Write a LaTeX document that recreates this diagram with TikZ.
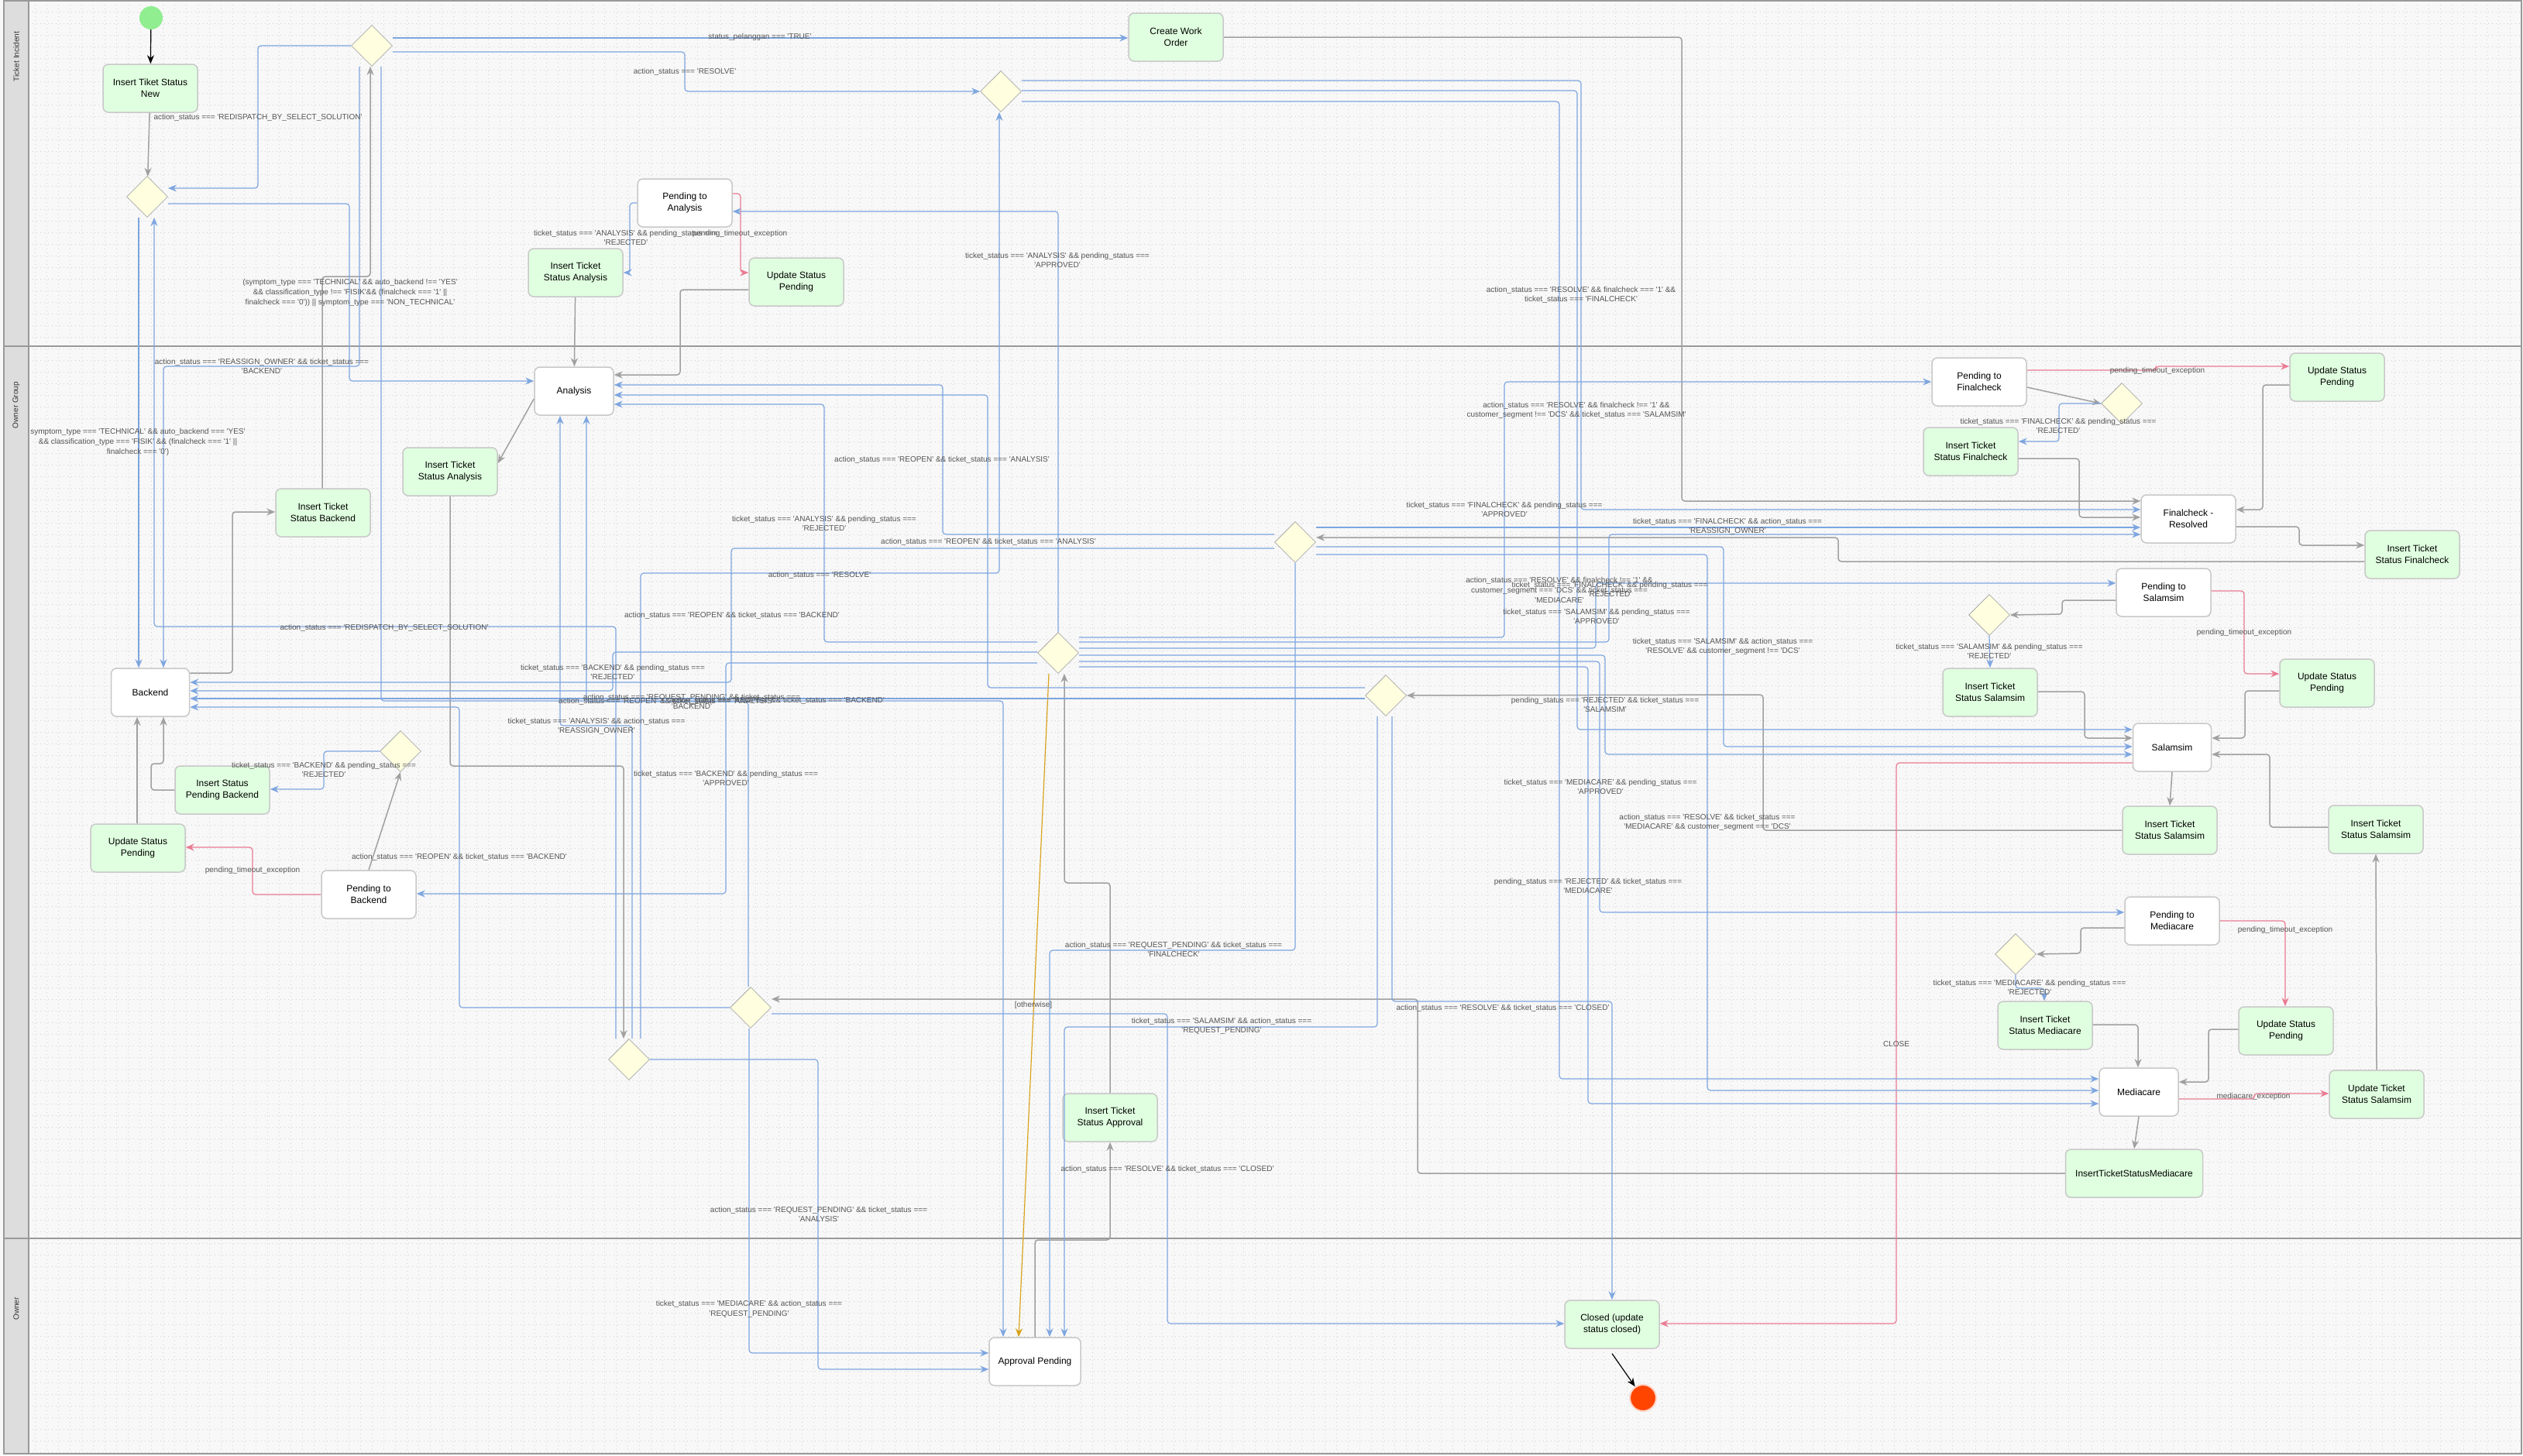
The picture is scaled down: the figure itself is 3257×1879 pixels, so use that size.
\documentclass[tikz,border=0pt]{standalone}
\usepackage{fontspec}
\setmainfont{Liberation Sans}[Ligatures=TeXOff]
\usetikzlibrary{arrows.meta,shapes.geometric}

\definecolor{bgcol}{HTML}{F8F8F8}
\definecolor{gridcol}{HTML}{D2D2D2}
\definecolor{lanehead}{HTML}{DDDDDD}
\definecolor{laneline}{HTML}{999999}
\definecolor{boxline}{HTML}{C8C8C8}
\definecolor{boxgreen}{HTML}{E0FFE0}
\definecolor{dmfill}{HTML}{FFFFE0}
\definecolor{dmline}{HTML}{ABABAB}
\definecolor{flowblue}{HTML}{7EA6E0}
\definecolor{flowgray}{HTML}{A0A0A0}
\definecolor{flowpink}{HTML}{EA7B92}
\definecolor{floworange}{HTML}{D9A21B}
\definecolor{lbltext}{HTML}{555555}
\definecolor{startgreen}{HTML}{90EE90}
\definecolor{endred}{HTML}{FF4500}
\definecolor{endring}{HTML}{FFD5C8}

\newcommand{\nodefnt}{\fontsize{12pt}{15pt}\selectfont}
\newcommand{\lblfnt}{\fontsize{10pt}{12.7pt}\selectfont}

\begin{document}
\begin{tikzpicture}[x=1pt, y=-1pt,
  gbox/.style={draw=boxline, line width=1.5pt, rounded corners=7pt, fill=boxgreen,
    align=center, minimum width=122pt, minimum height=62pt, inner sep=2pt, font=\nodefnt},
  wbox/.style={gbox, fill=white},
  choice/.style={diamond, draw=dmline, line width=0.8pt, fill=dmfill,
    minimum width=53pt, minimum height=53pt, inner sep=0pt},
  lbl/.style={align=center, inner sep=0pt, text=lbltext, font=\lblfnt},
  lanetitle/.style={rotate=90, font=\lblfnt, text=black!80},
  flow/.style={line width=1.2pt, rounded corners=4pt, -{Stealth[length=11pt,width=9pt]}},
  bl/.style={flow, draw=flowblue},
  gr/.style={flow, draw=flowgray, line width=1.5pt},
  pk/.style={flow, draw=flowpink},
  og/.style={flow, draw=floworange},
  blk/.style={flow, draw=black}]

\useasboundingbox (0,0) rectangle (3257,1879);
% swimlanes
\fill[bgcol] (0,0) rectangle (3257,1879);
\draw[gridcol, line width=0.7pt, dash pattern=on 0.7pt off 4.3pt, step=15pt] (37,1) grid (3255,1877);
\fill[lanehead] (5,1) rectangle (37,1877);
\draw[laneline, line width=1.5pt] (5,1) rectangle (3255,1877);
\draw[laneline, line width=1.5pt] (37,1) -- (37,1877);
\draw[laneline, line width=1.5pt] (5,447) -- (3255,447);
\draw[laneline, line width=1.5pt] (5,1599) -- (3255,1599);
\node[lanetitle] (laneticket) at (21,73) {Ticket Incident};
\node[lanetitle] (laneowngroup) at (21,523) {Owner Group};
\node[lanetitle] (laneowner) at (21,1690) {Owner};

% states
\node[circle, fill=startgreen, minimum size=30pt, inner sep=0pt] (start) at (195,23) {};
\node[gbox] (tiketnew) at (194,114) {Insert Tiket Status\\New};
\node[gbox] (cwo) at (1518,48) {Create Work\\Order};
\node[wbox] (pta) at (884,262) {Pending to\\Analysis};
\node[gbox] (usp1) at (1028,364) {Update Status\\Pending};
\node[gbox] (itsa1) at (743,352) {Insert Ticket\\Status Analysis};
\node[wbox, minimum width=102pt] (analysis) at (741,505) {Analysis};
\node[gbox] (itsa2) at (581,609) {Insert Ticket\\Status Analysis};
\node[gbox] (itsb) at (417,662) {Insert Ticket\\Status Backend};
\node[wbox, minimum width=101pt] (backend) at (194,894) {Backend};
\node[gbox] (ispb) at (287,1020) {Insert Status\\Pending Backend};
\node[gbox] (usp2) at (178,1095) {Update Status\\Pending};
\node[wbox] (ptb) at (476,1155) {Pending to\\Backend};
\node[gbox] (itsap) at (1433,1443) {Insert Ticket\\Status Approval};
\node[wbox, minimum width=118pt] (approval) at (1336,1758) {Approval Pending};
\node[gbox] (closed) at (2081,1710) {Closed (update\\status closed)};
\node[circle, fill=endred, draw=endring, line width=2pt, minimum size=34pt, inner sep=0pt] (end) at (2121,1805) {};
\node[wbox] (ptf) at (2555,493) {Pending to\\Finalcheck};
\node[gbox] (usp3) at (3017,487) {Update Status\\Pending};
\node[gbox] (itsf1) at (2544,583) {Insert Ticket\\Status Finalcheck};
\node[wbox] (fr) at (2825,670) {Finalcheck -\\Resolved};
\node[gbox] (itsf2) at (3114,716) {Insert Ticket\\Status Finalcheck};
\node[wbox] (pts) at (2793,765) {Pending to\\Salamsim};
\node[gbox] (itss1) at (2569,894) {Insert Ticket\\Status Salamsim};
\node[gbox] (usp4) at (3004,882) {Update Status\\Pending};
\node[wbox, minimum width=101pt] (salamsim) at (2804,965) {Salamsim};
\node[gbox] (itss2) at (2801,1072) {Insert Ticket\\Status Salamsim};
\node[gbox] (itss3) at (3067,1071) {Insert Ticket\\Status Salamsim};
\node[wbox] (ptm) at (2804,1189) {Pending to\\Mediacare};
\node[gbox] (itsm) at (2640,1324) {Insert Ticket\\Status Mediacare};
\node[gbox] (usp5) at (2951,1331) {Update Status\\Pending};
\node[wbox, minimum width=102pt] (medcare) at (2761,1410) {Mediacare};
\node[gbox] (utss) at (3068,1413) {Update Ticket\\Status Salamsim};
\node[gbox, minimum width=177pt] (itsm2) at (2755,1515) {InsertTicketStatusMediacare};

% decisions
\node[choice] (d1) at (480,59) {};
\node[choice] (d2) at (190,254) {};
\node[choice] (d3) at (1292,118) {};
\node[choice] (d4) at (517,970) {};
\node[choice] (d5) at (1366,843) {};
\node[choice] (d6) at (1672,700) {};
\node[choice] (d7) at (1789,898) {};
\node[choice] (d8) at (969,1301) {};
\node[choice] (d9) at (812,1368) {};
\node[choice] (d10) at (2739,521) {};
\node[choice] (d11) at (2568,794) {};
\node[choice] (d12) at (2602,1232) {};

% black
\draw[blk] (start) -- (tiketnew);
\draw[blk] (closed.south) ++(0,6) -- (end);

% gray
\draw[gr] (tiketnew) -- (d2);
\draw[gr] (itsb.north -| 416,0) -- (416,357) -- (478,357) -- (d1.south -| 478,0);
\draw[gr] (backend.east |- 0,869) -- (300,869) -- (300,661) -- (itsb.west |- 0,661);
\draw[gr] (ispb.west) -- (195,1020) -- (195,986) -- (211,986) -- (backend.south -| 211,0);
\draw[gr] (usp2.north -| 177,0) -- (backend.south -| 177,0);
\draw[gr] (ptb.north) -- (d4.south);
\draw[gr] (analysis.west |- 0,515) -- (itsa2.east |- 0,598);
\draw[gr] (itsa1) -- (analysis);
\draw[gr] (usp1.west |- 0,374) -- (878,374) -- (878,484) -- (analysis.east |- 0,484);
\draw[gr] (itsa2.south) -- (581,989) -- (805,989) -- (d9.north -| 805,0);
\draw[gr] (cwo.east) -- (2171,48) -- (2171,647) -- (fr.west |- 0,647);
\draw[gr] (ptf.east |- 0,500) -- (d10.west);
\draw[gr] (itsf1.east |- 0,592) -- (2684,592) -- (2684,668) -- (fr.west |- 0,668);
\draw[gr] (usp3.west |- 0,497) -- (2921,497) -- (2921,658) -- (fr.east |- 0,658);
\draw[gr] (fr.east |- 0,680) -- (2968,680) -- (2968,704) -- (itsf2.west |- 0,704);
\draw[gr] (itsf2.west |- 0,725) -- (2373,725) -- (2373,694) -- (d6.east |- 0,694);
\draw[gr] (pts.west |- 0,775) -- (2662,775) -- (2662,793) -- (d11.east);
\draw[gr] (itss1.east |- 0,893) -- (2691,893) -- (2691,953) -- (salamsim.west |- 0,953);
\draw[gr] (usp4.west |- 0,892) -- (2898,892) -- (2898,953) -- (salamsim.east |- 0,953);
\draw[gr] (salamsim.south) -- (itss2.north);
\draw[gr] (itss3.west |- 0,1068) -- (2930,1068) -- (2930,974) -- (salamsim.east |- 0,974);
\draw[gr] (itss2.west) -- (2276,1072) -- (2276,897) -- (d7.east);
\draw[gr] (utss.north) -- (itss3.south);
\draw[gr] (ptm.west |- 0,1198) -- (2686,1198) -- (2686,1231) -- (d12.east);
\draw[gr] (itsm.east |- 0,1323) -- (2760,1323) -- (medcare.north -| 2760,0);
\draw[gr] (usp5.west |- 0,1329) -- (2851,1329) -- (2851,1397) -- (medcare.east |- 0,1397);
\draw[gr] (medcare.south) -- (itsm2.north);
\draw[gr] (itsm2.west) -- (1830,1515) -- (1830,1290) -- (d8.east |- 0,1290);
\draw[gr] (itsap.north) -- (1433,1140) -- (1374,1140) -- (d5.south -| 1374,0);
\draw[gr] (approval.north) -- (1336,1601) -- (1433,1601) -- (itsap.south);

% pink
\draw[pk] (pta.east |- 0,250) -- (956,250) -- (956,352) -- (usp1.west |- 0,352);
\draw[pk] (ptb.west) -- (326,1155) -- (326,1094) -- (usp2.east |- 0,1094);
\draw[pk] (ptf.east |- 0,478) -- (2783,478) -- (2783,473) -- (usp3.west |- 0,473);
\draw[pk] (pts.east |- 0,763) -- (2897,763) -- (2897,870) -- (usp4.west |- 0,870);
\draw[pk] (ptm.east) -- (2950,1189) -- (usp5.north -| 2950,0);
\draw[pk] (medcare.east |- 0,1419) -- (2910,1419) -- (2910,1412) -- (utss.west |- 0,1412);
\draw[pk] (salamsim.west |- 0,985) -- (2448,985) -- (2448,1709) -- (closed.east |- 0,1709);

% orange
\draw[og] (d5.south -| 1354,0) -- (approval.north -| 1315,0);

% blue
\draw[bl] (d1.west) -- (333,59) -- (333,243) -- (d2.east |- 0,243);
\draw[bl] (d1.east |- 0,49) -- (cwo.west |- 0,49);
\draw[bl] (d1.east |- 0,67) -- (884,67) -- (884,118) -- (d3.west);
\draw[bl] (d1.south -| 464,0) -- (464,473) -- (211,473) -- (backend.north -| 211,0);
\draw[bl] (d1.south -| 492,0) -- (492,905) -- (1295,905) -- (approval.north -| 1295,0);
\draw[bl] (d2.east |- 0,263) -- (451,263) -- (451,492) -- (analysis.west |- 0,492);
\draw[bl] (d2.south -| 179,0) -- (backend.north -| 179,0);
\draw[bl] (d9.north -| 795,0) -- (795,809) -- (199,809) -- (d2.south -| 199,0);
\draw[bl] (d9.north -| 827,0) -- (827,740) -- (1290,740) -- (d3.south -| 1290,0);
\draw[bl] (d9.north -| 816,0) -- (816,937) -- (723,937) -- (analysis.south -| 723,0);
\draw[bl] (d9.east) -- (1056,1368) -- (1056,1768) -- (approval.west |- 0,1768);
\draw[bl] (d8.south -| 967,0) -- (967,1747) -- (approval.west |- 0,1747);
\draw[bl] (d8.west) -- (593,1301) -- (593,913) -- (backend.east |- 0,913);
\draw[bl] (d8.north -| 966,0) -- (966,906) -- (757,906) -- (analysis.south -| 757,0);
\draw[bl] (d8.east |- 0,1309) -- (1507,1309) -- (1507,1709) -- (closed.west |- 0,1709);
\draw[bl] (d3.east |- 0,104) -- (2041,104) -- (2041,658) -- (fr.west |- 0,658);
\draw[bl] (d3.east |- 0,117) -- (2036,117) -- (2036,942) -- (salamsim.west |- 0,942);
\draw[bl] (d3.east |- 0,131) -- (2013,131) -- (2013,1393) -- (medcare.west |- 0,1393);
\draw[bl] (d5.north) -- (1366,273) -- (pta.east |- 0,273);
\draw[bl] (d5.west |- 0,829) -- (1064,829) -- (1064,522) -- (analysis.east |- 0,522);
\draw[bl] (d5.west |- 0,842) -- (791,842) -- (791,892) -- (backend.east |- 0,892);
\draw[bl] (d5.west |- 0,856) -- (937,856) -- (937,1154) -- (ptb.east |- 0,1154);
\draw[bl] (d5.east |- 0,823) -- (1942,823) -- (1942,493) -- (ptf.west);
\draw[bl] (d5.east |- 0,829) -- (2077,829) -- (2077,690) -- (fr.west |- 0,690);
\draw[bl] (d5.east |- 0,837) -- (2060,837) -- (2060,753) -- (pts.west |- 0,753);
\draw[bl] (d5.east |- 0,846) -- (2072,846) -- (2072,974) -- (salamsim.west |- 0,974);
\draw[bl] (d5.east |- 0,854) -- (2065,854) -- (2065,1178) -- (ptm.west |- 0,1178);
\draw[bl] (d5.east |- 0,861) -- (2050,861) -- (2050,1425) -- (medcare.west |- 0,1425);
\draw[bl] (d6.west |- 0,690) -- (1217,690) -- (1217,497) -- (analysis.east |- 0,497);
\draw[bl] (d6.west |- 0,708) -- (944,708) -- (944,881) -- (backend.east |- 0,881);
\draw[bl] (d6.east |- 0,681) -- (fr.west |- 0,681);
\draw[bl] (d6.east |- 0,706) -- (2225,706) -- (2225,964) -- (salamsim.west |- 0,964);
\draw[bl] (d6.east |- 0,716) -- (2204,716) -- (2204,1408) -- (medcare.west |- 0,1408);
\draw[bl] (d6.south) -- (1672,1227) -- (1355,1227) -- (approval.north -| 1355,0);
\draw[bl] (d7.west |- 0,888) -- (1275,888) -- (1275,510) -- (analysis.east |- 0,510);
\draw[bl] (d7.west |- 0,902) -- (backend.east |- 0,902);
\draw[bl] (d7.south -| 1778,0) -- (1778,1326) -- (1374,1326) -- (approval.north -| 1374,0);
\draw[bl] (d7.south -| 1797,0) -- (1797,1293) -- (2081,1293) -- (closed.north);
\draw[bl] (d4.west) -- (418,970) -- (418,1019) -- (ispb.east |- 0,1019);
\draw[bl] (d10.west) -- (2658,521) -- (2658,570) -- (itsf1.east |- 0,570);
\draw[bl] (d11.south) -- (itss1.north);
\draw[bl] (d12.south) -- (2602,1276) -- (2639,1276) -- (itsm.north -| 2639,0);
\draw[bl] (pta.west |- 0,262) -- (813,262) -- (813,352) -- (itsa1.east |- 0,352);

% guards
\node[lbl] (l1) at (981,48) {status\_pelanggan === 'TRUE'};
\node[lbl] (l2) at (884,93) {action\_status === 'RESOLVE'};
\node[lbl] (l3) at (333,152) {action\_status === 'REDISPATCH\_BY\_SELECT\_SOLUTION'};
\node[lbl] (l4) at (808,307) {ticket\_status === 'ANALYSIS' \&\& pending\_status ===\\'REJECTED'};
\node[lbl] (l5) at (955,302) {pending\_timeout\_exception};
\node[lbl] (l6) at (1365,336) {ticket\_status === 'ANALYSIS' \&\& pending\_status ===\\'APPROVED'};
\node[lbl] (l7) at (452,378) {(symptom\_type === 'TECHNICAL' \&\& auto\_backend !== 'YES'\\\&\& classification\_type !== 'FISIK'\&\& (finalcheck === '1' ||\\finalcheck === '0')) || symptom\_type === 'NON\_TECHNICAL'};
\node[lbl] (l8) at (2041,381) {action\_status === 'RESOLVE' \&\& finalcheck === '1' \&\&\\ticket\_status === 'FINALCHECK'};
\node[lbl] (l9) at (338,473) {action\_status === 'REASSIGN\_OWNER' \&\& ticket\_status ===\\'BACKEND'};
\node[lbl] (l10) at (178,571) {symptom\_type === 'TECHNICAL' \&\& auto\_backend === 'YES'\\\&\& classification\_type === 'FISIK' \&\& (finalcheck === '1' ||\\finalcheck === '0')};
\node[lbl] (l11) at (2785,479) {pending\_timeout\_exception};
\node[lbl] (l12) at (2035,530) {action\_status === 'RESOLVE' \&\& finalcheck !== '1' \&\&\\customer\_segment !== 'DCS' \&\& ticket\_status === 'SALAMSIM'};
\node[lbl] (l13) at (2657,550) {ticket\_status === 'FINALCHECK' \&\& pending\_status ===\\'REJECTED'};
\node[lbl] (l14) at (1216,594) {action\_status === 'REOPEN' \&\& ticket\_status === 'ANALYSIS'};
\node[lbl] (l15) at (1064,676) {ticket\_status === 'ANALYSIS' \&\& pending\_status ===\\'REJECTED'};
\node[lbl] (l16) at (1276,700) {action\_status === 'REOPEN' \&\& ticket\_status === 'ANALYSIS'};
\node[lbl] (l17) at (1942,658) {ticket\_status === 'FINALCHECK' \&\& pending\_status ===\\'APPROVED'};
\node[lbl] (l18) at (2230,680) {ticket\_status === 'FINALCHECK' \&\& action\_status ===\\'REASSIGN\_OWNER'};
\node[lbl] (l19) at (1058,743) {action\_status === 'RESOLVE'};
\node[lbl] (l20) at (2013,762) {action\_status === 'RESOLVE' \&\& finalcheck !== '1' \&\&\\customer\_segment === 'DCS' \&\& ticket\_status ===\\'MEDIACARE'};
\node[lbl] (l21) at (2078,761) {ticket\_status === 'FINALCHECK' \&\& pending\_status ===\\'REJECTED'};
\node[lbl] (l22) at (2061,796) {ticket\_status === 'SALAMSIM' \&\& pending\_status ===\\'APPROVED'};
\node[lbl] (l23) at (945,795) {action\_status === 'REOPEN' \&\& ticket\_status === 'BACKEND'};
\node[lbl] (l24) at (496,811) {action\_status === 'REDISPATCH\_BY\_SELECT\_SOLUTION'};
\node[lbl] (l25) at (2224,835) {ticket\_status === 'SALAMSIM' \&\& action\_status ===\\'RESOLVE' \&\& customer\_segment !== 'DCS'};
\node[lbl] (l26) at (2568,841) {ticket\_status === 'SALAMSIM' \&\& pending\_status ===\\'REJECTED'};
\node[lbl] (l27) at (2897,817) {pending\_timeout\_exception};
\node[lbl] (l28) at (791,868) {ticket\_status === 'BACKEND' \&\& pending\_status ===\\'REJECTED'};
\node[lbl] (l29) at (2072,910) {pending\_status === 'REJECTED' \&\& ticket\_status ===\\'SALAMSIM'};
\node[lbl] (l30) at (893,906) {action\_status === 'REQUEST\_PENDING' \&\& ticket\_status ===\\'BACKEND'};
\node[lbl] (l31) at (860,906) {action\_status === 'REOPEN' \&\& ticket\_status === 'ANALYSIS'};
\node[lbl] (l32) at (1003,905) {action\_status === 'REOPEN' \&\& ticket\_status === 'BACKEND'};
\node[lbl] (l33) at (770,938) {ticket\_status === 'ANALYSIS' \&\& action\_status ===\\'REASSIGN\_OWNER'};
\node[lbl] (l34) at (418,994) {ticket\_status === 'BACKEND' \&\& pending\_status ===\\'REJECTED'};
\node[lbl] (l35) at (937,1005) {ticket\_status === 'BACKEND' \&\& pending\_status ===\\'APPROVED'};
\node[lbl] (l36) at (2066,1016) {ticket\_status === 'MEDIACARE' \&\& pending\_status ===\\'APPROVED'};
\node[lbl] (l37) at (2204,1062) {action\_status === 'RESOLVE' \&\& ticket\_status ===\\'MEDIACARE' \&\& customer\_segment === 'DCS'};
\node[lbl] (l38) at (593,1107) {action\_status === 'REOPEN' \&\& ticket\_status === 'BACKEND'};
\node[lbl] (l39) at (326,1124) {pending\_timeout\_exception};
\node[lbl] (l40) at (2050,1144) {pending\_status === 'REJECTED' \&\& ticket\_status ===\\'MEDIACARE'};
\node[lbl] (l41) at (2950,1201) {pending\_timeout\_exception};
\node[lbl] (l42) at (1515,1226) {action\_status === 'REQUEST\_PENDING' \&\& ticket\_status ===\\'FINALCHECK'};
\node[lbl] (l43) at (2620,1275) {ticket\_status === 'MEDIACARE' \&\& pending\_status ===\\'REJECTED'};
\node[lbl] (l44) at (1334,1298) {[otherwise]};
\node[lbl] (l45) at (1577,1325) {ticket\_status === 'SALAMSIM' \&\& action\_status ===\\'REQUEST\_PENDING'};
\node[lbl] (l46) at (1940,1302) {action\_status === 'RESOLVE' \&\& ticket\_status === 'CLOSED'};
\node[lbl] (l47) at (2448,1348) {CLOSE};
\node[lbl] (l48) at (2909,1416) {mediacare\_exception};
\node[lbl] (l49) at (1507,1510) {action\_status === 'RESOLVE' \&\& ticket\_status === 'CLOSED'};
\node[lbl] (l50) at (1057,1568) {action\_status === 'REQUEST\_PENDING' \&\& ticket\_status ===\\'ANALYSIS'};
\node[lbl] (l51) at (967,1690) {ticket\_status === 'MEDIACARE' \&\& action\_status ===\\'REQUEST\_PENDING'};
\end{tikzpicture}
\end{document}
